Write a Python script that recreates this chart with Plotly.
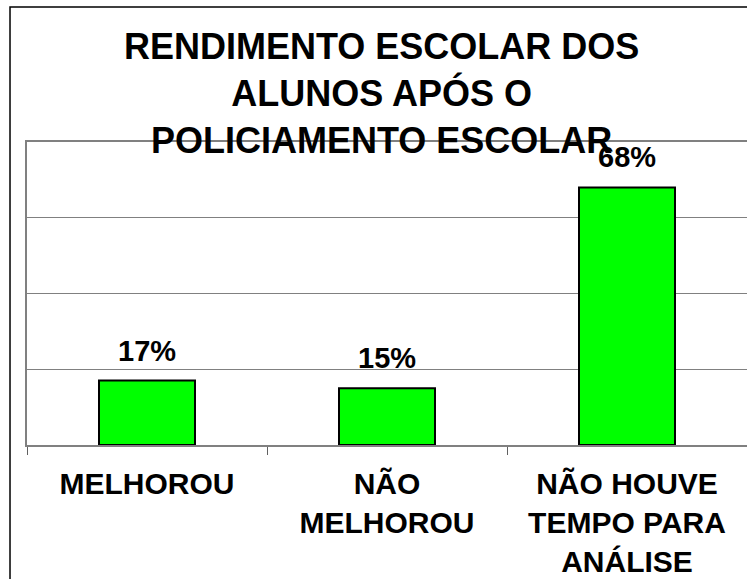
import plotly.graph_objects as go

categories = ["MELHOROU", "NÃO<br>MELHOROU", "NÃO HOUVE<br>TEMPO PARA<br>ANÁLISE"]
values = [17, 15, 68]
value_labels = ["17%", "15%", "68%"]
title_text = "RENDIMENTO ESCOLAR DOS<br>ALUNOS APÓS O<br>POLICIAMENTO ESCOLAR"

FONT = "Liberation Sans, Arial, sans-serif"

fig = go.Figure()
fig.add_trace(go.Bar(
    x=categories, y=values,
    marker=dict(color="#00FF00", line=dict(color="black", width=2)),
    width=0.4, showlegend=False, hoverinfo="skip",
))

for c, v, t in zip(categories, values, value_labels):
    fig.add_annotation(x=c, y=v, text=t, showarrow=False, xref="x", yref="y",
                       yanchor="bottom", yshift=12,
                       font=dict(family=FONT, size=29, color="black", weight="bold"))

fig.add_annotation(text=title_text, xref="paper", yref="paper", x=0.4917, y=1.39,
                   xanchor="center", yanchor="top", showarrow=False, align="center",
                   font=dict(family=FONT, size=36, color="black", weight="bold"))

# outer chart border
fig.add_shape(type="rect", xref="paper", yref="paper", x0=-0.0236, x1=1.05, y0=-0.6, y1=1.4455,
              line=dict(color="black", width=1.5), fillcolor="rgba(0,0,0,0)", layer="above")

fig.update_layout(
    width=747, height=579,
    margin=dict(l=27, r=0, t=142, b=134, autoexpand=False),
    paper_bgcolor="white", plot_bgcolor="white",
    font=dict(family=FONT, color="black"),
    bargap=0.6,
)
fig.update_xaxes(
    showline=True, linecolor="#808080", linewidth=1.5, mirror=True,
    ticks="outside", tickson="boundaries", ticklen=8, tickcolor="#606060", tickwidth=1,
    ticklabelstandoff=11, automargin=False,
    tickfont=dict(family=FONT, size=30, color="black", weight="bold"),
    showgrid=False,
)
fig.update_yaxes(
    range=[0, 80], dtick=20, showticklabels=False, ticks="", automargin=False,
    showgrid=True, gridcolor="#808080", gridwidth=1,
    showline=True, linecolor="#808080", linewidth=1.5, mirror=True, zeroline=False,
)

fig.write_html("out.html", config={"displayModeBar": False},
               post_script="document.body.style.margin='0';")
